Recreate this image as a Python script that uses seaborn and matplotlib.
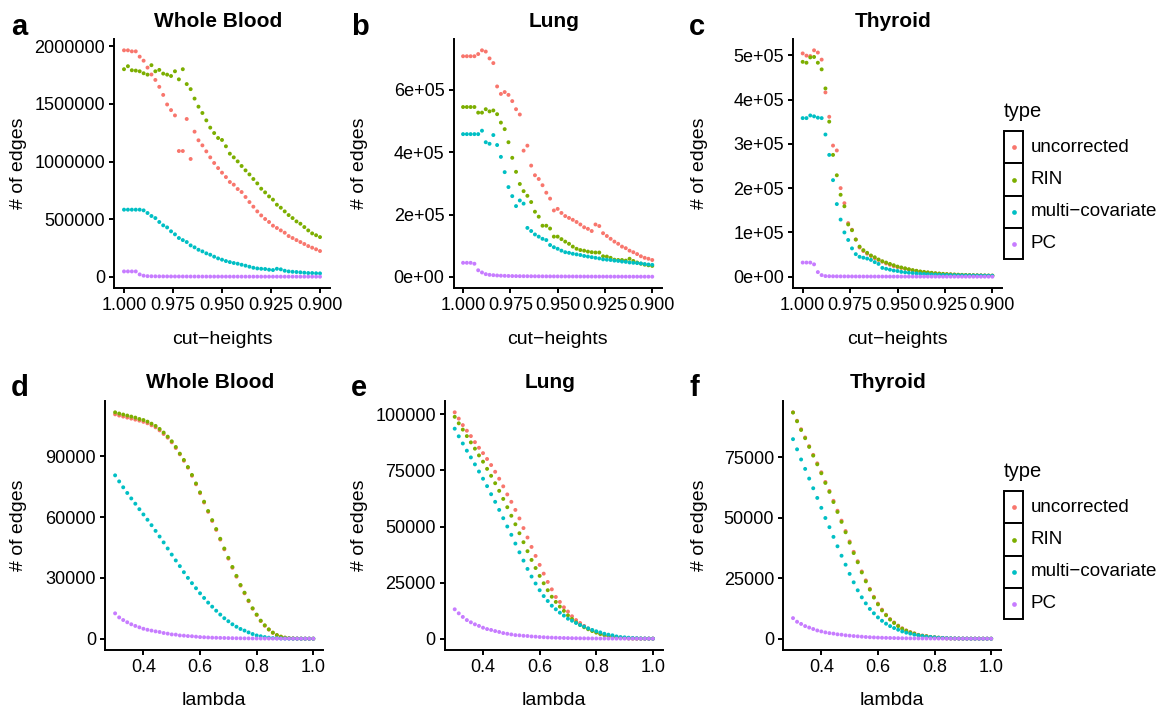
import numpy as np
import pandas as pd
import matplotlib
matplotlib.use("Agg")
import matplotlib.pyplot as plt
import seaborn as sns
from matplotlib.patches import Rectangle
from matplotlib.lines import Line2D

# ---------------- data ----------------
TYPES = ["uncorrected", "RIN", "multi\u2212covariate", "PC"]
COLORS = ["#F8766D", "#7CAE00", "#00BFC4", "#C77CFF"]

cut_heights = [1.000, 0.998, 0.996, 0.994, 0.992, 0.990, 0.988, 0.986, 0.984, 0.982,
               0.980, 0.978, 0.976, 0.974, 0.972, 0.970, 0.968, 0.966, 0.964, 0.962,
               0.960, 0.958, 0.956, 0.954, 0.952, 0.950, 0.948, 0.946, 0.944, 0.942,
               0.940, 0.938, 0.936, 0.934, 0.932, 0.930, 0.928, 0.926, 0.924, 0.922,
               0.920, 0.918, 0.916, 0.914, 0.912, 0.910, 0.908, 0.906, 0.904, 0.902,
               0.900]

lambdas = [0.3000, 0.3143, 0.3286, 0.3429, 0.3571, 0.3714, 0.3857, 0.4000, 0.4143, 0.4286,
           0.4429, 0.4571, 0.4714, 0.4857, 0.5000, 0.5143, 0.5286, 0.5429, 0.5571, 0.5714,
           0.5857, 0.6000, 0.6143, 0.6286, 0.6429, 0.6571, 0.6714, 0.6857, 0.7000, 0.7143,
           0.7286, 0.7429, 0.7571, 0.7714, 0.7857, 0.8000, 0.8143, 0.8286, 0.8429, 0.8571,
           0.8714, 0.8857, 0.9000, 0.9143, 0.9286, 0.9429, 0.9571, 0.9714, 0.9857, 1.0000]

# number of edges, in thousands
wb_cut_uncorrected = [1965, 1965, 1956, 1956, 1910, 1875, 1815, 1755, 1708, 1648,
                      1578, 1495, 1446, 1400, 1091, 1091, 1369, 1022, 1259, 1184,
                      1140, 1088, 1036, 987, 943, 903, 865, 822, 799, 761,
                      735, 692, 648, 608, 567, 532, 501, 475, 443, 423,
                      402, 382, 353, 336, 318, 301, 284, 266, 252, 238,
                      223]
wb_cut_rin = [1801, 1827, 1792, 1789, 1783, 1766, 1754, 1836, 1783, 1795,
              1763, 1754, 1742, 1783, 1713, 1801, 1672, 1628, 1546, 1476,
              1421, 1357, 1294, 1247, 1204, 1187, 1132, 1068, 1036, 1001,
              961, 923, 888, 848, 810, 764, 732, 697, 669, 625,
              599, 567, 535, 509, 480, 460, 431, 402, 376, 360,
              344]
wb_cut_multi = [582, 582, 582, 582, 582, 576, 553, 527, 509, 475,
                446, 428, 394, 368, 336, 318, 301, 272, 255, 234,
                220, 203, 191, 174, 159, 148, 136, 127, 119, 113,
                104, 96, 87, 78, 72, 69, 67, 61, 58, 69,
                64, 52, 46, 43, 41, 38, 35, 32, 32, 30,
                29]
wb_cut_pc = [46, 46, 46, 46, 20, 9, 5, 4, 3.5, 3,
             2.8, 2.5, 2.3, 2.1, 2.0, 1.9, 1.8, 1.7, 1.6, 1.5,
             1.4, 1.3, 1.25, 1.2, 1.15, 1.1, 1.05, 1.0, 0.95, 0.9,
             0.85, 0.8, 0.78, 0.75, 0.72, 0.7, 0.68, 0.65, 0.62, 0.6,
             0.58, 0.56, 0.54, 0.52, 0.5, 0.48, 0.46, 0.44, 0.42, 0.4,
             0.38]

lung_cut_uncorrected = [708, 708, 708, 708, 715, 727, 723, 701, 686, 611,
                        587, 593, 584, 564, 538, 521, 405, 421, 357, 326,
                        314, 294, 270, 251, 213, 218, 205, 195, 189, 183,
                        176, 168, 159, 154, 147, 168, 163, 140, 131, 122,
                        113, 106, 97, 92, 84, 79, 73, 66, 61, 58,
                        54]
lung_cut_rin = [545, 545, 545, 545, 527, 527, 538, 531, 534, 522,
                495, 474, 432, 382, 337, 298, 275, 260, 240, 209,
                193, 164, 164, 155, 129, 129, 121, 113, 106, 97,
                90, 86, 84, 81, 79, 78, 78, 66, 65, 61,
                55, 54, 54, 52, 58, 51, 46, 42, 39, 37,
                35]
lung_cut_multi = [458, 458, 458, 458, 458, 469, 432, 427, 455, 423,
                  385, 336, 288, 259, 227, 245, 235, 157, 147, 136,
                  129, 122, 118, 102, 95, 90, 84, 79, 77, 74,
                  72, 70, 67, 65, 63, 61, 59, 56, 55, 54,
                  52, 51, 49, 48, 46, 45, 44, 43, 41, 39.5,
                  38.5]
lung_cut_pc = [45, 45, 45, 42, 21, 14, 8.6, 6.4, 5.3, 4.3,
               3.6, 3.2, 2.8, 2.5, 2.3, 2.1, 2.0, 1.9, 1.8, 1.7,
               1.6, 1.5, 1.4, 1.35, 1.3, 1.25, 1.2, 1.15, 1.1, 1.05,
               1.0, 0.95, 0.9, 0.85, 0.8, 0.78, 0.75, 0.72, 0.7, 0.68,
               0.65, 0.62, 0.6, 0.58, 0.56, 0.54, 0.52, 0.5, 0.48, 0.46,
               0.45]

thy_cut_uncorrected = [504, 499, 498, 511, 506, 490, 416, 361, 296, 285,
                       200, 166, 121, 106, 84, 66, 58, 52, 47, 42,
                       38, 34, 30, 27, 24, 22, 20, 18, 16, 14,
                       12.5, 11, 10, 9, 8.2, 7.4, 6.7, 6, 5.5, 5,
                       4.6, 4.2, 3.9, 3.6, 3.4, 3.2, 3.0, 2.8, 2.6, 2.5,
                       2.4]
thy_cut_rin = [485, 483, 495, 496, 483, 468, 425, 350, 275, 229,
               185, 159, 118, 105, 84, 68, 60, 54, 48, 44,
               39, 35, 32, 29, 26, 23, 21, 19, 17, 15,
               13.5, 12, 11, 10, 9, 8, 7.3, 6.6, 6, 5.5,
               5, 4.6, 4.3, 4, 3.7, 3.4, 3.2, 3.0, 2.8, 2.6,
               2.5]
thy_cut_multi = [358, 358, 364, 362, 359, 358, 321, 275, 218, 164,
                 129, 100, 83, 64, 51, 45, 43, 41, 38, 33,
                 29, 20, 18, 16, 14, 13, 11, 10, 9, 8.3,
                 7.5, 6.8, 6.2, 5.7, 5.2, 4.8, 4.5, 4.2, 4.0, 3.8,
                 3.6, 3.4, 3.2, 3.0, 2.9, 2.8, 2.7, 2.6, 2.5, 2.4,
                 2.3]
thy_cut_pc = [32, 32, 32, 28, 10.5, 3.7, 1.5, 1.2, 1.0, 0.9,
              0.8, 0.75, 0.7, 0.65, 0.6, 0.56, 0.52, 0.5, 0.48, 0.46,
              0.44, 0.42, 0.4, 0.38, 0.36, 0.35, 0.34, 0.33, 0.32, 0.31,
              0.3, 0.29, 0.28, 0.27, 0.26, 0.25, 0.24, 0.23, 0.22, 0.21,
              0.2, 0.2, 0.19, 0.19, 0.18, 0.18, 0.17, 0.17, 0.16, 0.16,
              0.15]

wb_lam_uncorrected = [110.7, 110.1, 109.6, 109.1, 108.6, 108.1, 107.6, 107.0, 106.3, 105.3,
                      104.3, 102.8, 101.0, 99.2, 96.9, 94.1, 91.0, 87.8, 84.4, 80.4,
                      76.2, 71.8, 67.2, 62.6, 58.1, 53.7, 48.9, 44.1, 39.5, 35.0,
                      30.6, 26.2, 22.4, 18.5, 14.8, 11.7, 8.7, 6.4, 4.5, 2.9,
                      1.7, 0.95, 0.5, 0.24, 0.11, 0.05, 0.03, 0.015, 0.008, 0.004]
wb_lam_rin = [111.7, 111.1, 110.6, 110.1, 109.6, 109.1, 108.4, 107.9, 107.1, 106.1,
              105.0, 103.5, 101.7, 99.7, 97.4, 94.6, 91.3, 88.2, 84.7, 80.8,
              76.6, 72.2, 67.6, 63.0, 58.5, 54.1, 49.3, 44.5, 39.9, 35.4,
              31.0, 26.5, 22.7, 18.8, 15.0, 11.9, 8.9, 6.6, 4.6, 3.0,
              1.8, 1.0, 0.5, 0.25, 0.12, 0.06, 0.03, 0.015, 0.008, 0.004]
wb_lam_multi = [80.6, 77.6, 74.7, 71.9, 69.2, 66.6, 63.9, 61.3, 58.7, 56.0,
                53.2, 50.4, 47.5, 44.5, 41.5, 38.6, 35.8, 32.8, 30.0, 27.4,
                24.9, 22.4, 20.1, 17.8, 15.8, 13.8, 11.9, 10.1, 8.6, 7.1,
                5.9, 4.8, 4.0, 3.1, 2.3, 1.6, 1.2, 0.8, 0.5, 0.3,
                0.2, 0.12, 0.07, 0.04, 0.02, 0.01, 0.006, 0.003, 0.002, 0.001]
wb_lam_pc = [12.5, 10.5, 9.2, 8.1, 7.1, 6.3, 5.6, 4.9, 4.4, 4.0,
             3.6, 3.3, 2.8, 2.5, 2.1, 2.0, 1.6, 1.5, 1.3, 1.2,
             1.0, 0.8, 0.7, 0.6, 0.5, 0.45, 0.4, 0.35, 0.3, 0.26,
             0.22, 0.19, 0.16, 0.14, 0.12, 0.1, 0.08, 0.07, 0.06, 0.05,
             0.04, 0.035, 0.03, 0.025, 0.02, 0.016, 0.013, 0.01, 0.008, 0.006]

lung_lam_uncorrected = [100.9, 98.1, 95.2, 92.7, 90.3, 87.6, 85.1, 82.7, 80.1, 77.4,
                        74.4, 71.3, 67.9, 64.3, 61.0, 57.4, 53.6, 49.3, 45.1, 40.9,
                        36.9, 32.9, 29.0, 25.3, 22.0, 18.6, 16.4, 14.0, 12.1, 10.0,
                        8.3, 7.0, 5.7, 4.6, 3.7, 3.0, 2.2, 1.8, 1.3, 1.0,
                        0.7, 0.45, 0.3, 0.15, 0.1, 0.06, 0.04, 0.02, 0.01, 0.005]
lung_lam_rin = [98.9, 96.0, 93.2, 90.3, 87.5, 84.7, 81.7, 78.9, 75.7, 72.6,
                69.3, 65.9, 62.3, 58.6, 54.8, 51.0, 47.0, 43.0, 39.0, 35.1,
                31.5, 28.0, 24.7, 21.6, 18.7, 16.4, 14.3, 12.4, 10.4, 8.8,
                7.3, 6.1, 5.1, 4.2, 3.4, 2.7, 2.1, 1.6, 1.2, 0.9,
                0.6, 0.45, 0.3, 0.15, 0.1, 0.06, 0.04, 0.02, 0.01, 0.005]
lung_lam_multi = [93.6, 90.2, 87.0, 83.8, 80.8, 77.7, 74.5, 71.3, 68.0, 64.4,
                  61.0, 57.4, 53.7, 50.0, 46.3, 42.4, 38.5, 34.8, 31.1, 27.7,
                  24.6, 21.6, 19.0, 16.8, 14.7, 13.1, 11.6, 10.3, 8.9, 8.0,
                  7.0, 6.1, 5.4, 4.6, 3.9, 3.3, 2.8, 2.2, 1.8, 1.5,
                  1.0, 0.7, 0.6, 0.45, 0.3, 0.2, 0.12, 0.08, 0.05, 0.03]
lung_lam_pc = [13.1, 11.3, 9.7, 8.3, 7.3, 6.4, 5.7, 4.9, 4.3, 3.9,
               3.4, 3.0, 2.5, 2.2, 1.9, 1.6, 1.5, 1.3, 1.2, 1.0,
               0.9, 0.75, 0.65, 0.55, 0.48, 0.42, 0.36, 0.31, 0.27, 0.23,
               0.2, 0.17, 0.15, 0.13, 0.11, 0.09, 0.08, 0.07, 0.06, 0.05,
               0.04, 0.035, 0.03, 0.025, 0.02, 0.016, 0.013, 0.01, 0.008, 0.006]

thy_lam_uncorrected = [93.6, 90.1, 86.6, 83.2, 79.6, 76.0, 72.5, 68.8, 64.8, 61.1,
                       57.0, 52.9, 48.8, 44.5, 40.2, 35.9, 32.0, 27.8, 24.1, 20.6,
                       17.3, 14.5, 12.0, 9.9, 8.1, 6.7, 5.4, 4.3, 3.4, 2.7,
                       2.2, 1.6, 1.3, 1.05, 0.75, 0.58, 0.42, 0.31, 0.16, 0.1,
                       0.07, 0.05, 0.03, 0.02, 0.01, 0.006, 0.004, 0.002, 0.001, 0.001]
thy_lam_rin = [93.5, 89.9, 86.3, 82.9, 79.3, 75.7, 72.1, 68.4, 64.4, 60.7,
               56.5, 52.4, 48.3, 44.0, 39.7, 35.4, 31.6, 27.4, 23.7, 20.3,
               17.0, 14.2, 11.7, 9.7, 7.9, 6.5, 5.2, 4.1, 3.3, 2.6,
               2.1, 1.5, 1.2, 1.0, 0.7, 0.55, 0.4, 0.3, 0.15, 0.1,
               0.07, 0.05, 0.03, 0.02, 0.01, 0.006, 0.004, 0.002, 0.001, 0.001]
thy_lam_multi = [82.5, 78.3, 74.1, 70.2, 66.2, 62.2, 58.2, 54.1, 49.9, 46.1,
                 42.1, 38.2, 34.3, 30.6, 26.8, 23.3, 20.0, 17.1, 14.6, 12.3,
                 10.5, 8.8, 7.4, 6.2, 5.2, 4.4, 3.7, 3.0, 2.5, 2.1,
                 1.65, 1.4, 1.1, 0.8, 0.7, 0.55, 0.4, 0.3, 0.2, 0.15,
                 0.1, 0.07, 0.05, 0.03, 0.02, 0.01, 0.007, 0.004, 0.002, 0.001]
thy_lam_pc = [8.5, 7.0, 6.1, 5.2, 4.6, 4.0, 3.4, 3.0, 2.6, 2.3,
              2.1, 1.8, 1.65, 1.4, 1.25, 1.1, 0.97, 0.83, 0.7, 0.6,
              0.52, 0.45, 0.39, 0.34, 0.3, 0.26, 0.22, 0.19, 0.16, 0.14,
              0.12, 0.1, 0.09, 0.08, 0.07, 0.06, 0.05, 0.04, 0.035, 0.03,
              0.025, 0.02, 0.016, 0.013, 0.01, 0.008, 0.006, 0.005, 0.004, 0.003]

tissues = ["Whole Blood", "Lung", "Thyroid"]
letters = ["a", "b", "c", "d", "e", "f"]

yt_a = [0, 500000, 1000000, 1500000, 2000000]
yl_a = ["0", "500000", "1000000", "1500000", "2000000"]
yt_b = [0, 200000, 400000, 600000]
yl_b = ["0e+00", "2e+05", "4e+05", "6e+05"]
yt_c = [0, 100000, 200000, 300000, 400000, 500000]
yl_c = ["0e+00", "1e+05", "2e+05", "3e+05", "4e+05", "5e+05"]
yt_d = [0, 30000, 60000, 90000]
yl_d = ["0", "30000", "60000", "90000"]
yt_e = [0, 25000, 50000, 75000, 100000]
yl_e = ["0", "25000", "50000", "75000", "100000"]
yt_f = [0, 25000, 50000, 75000]
yl_f = ["0", "25000", "50000", "75000"]

xt_cut = [1.000, 0.975, 0.950, 0.925, 0.900]
xl_cut = ["1.000", "0.975", "0.950", "0.925", "0.900"]
xt_lam = [0.4, 0.6, 0.8, 1.0]
xl_lam = ["0.4", "0.6", "0.8", "1.0"]

# ---------------- style ----------------
sns.set_style("ticks")
plt.rcParams["font.family"] = ["Liberation Sans", "DejaVu Sans"]
plt.rcParams["axes.linewidth"] = 1.4
plt.rcParams["text.color"] = "black"
plt.rcParams["axes.labelcolor"] = "black"

W, H = 1159, 709
fig = plt.figure(figsize=(W / 100, H / 100), dpi=100)


def rect_px(left, right, top, bottom):
    return [left / W, 1 - bottom / H, (right - left) / W, (bottom - top) / H]


panels = [
    dict(x=cut_heights, ys=[wb_cut_uncorrected, wb_cut_rin, wb_cut_multi, wb_cut_pc],
         box=(114.2, 329.8, 39, 288), yt=yt_a, yl=yl_a, kind="cut", ylab_x=19),
    dict(x=cut_heights, ys=[lung_cut_uncorrected, lung_cut_rin, lung_cut_multi, lung_cut_pc],
         box=(453.6, 661.7, 39, 288), yt=yt_b, yl=yl_b, kind="cut", ylab_x=359),
    dict(x=cut_heights, ys=[thy_cut_uncorrected, thy_cut_rin, thy_cut_multi, thy_cut_pc],
         box=(793.2, 1001.8, 39, 288), yt=yt_c, yl=yl_c, kind="cut", ylab_x=700),
    dict(x=lambdas, ys=[wb_lam_uncorrected, wb_lam_rin, wb_lam_multi, wb_lam_pc],
         box=(105.2, 323.2, 401, 650), yt=yt_d, yl=yl_d, kind="lam", ylab_x=19),
    dict(x=lambdas, ys=[lung_lam_uncorrected, lung_lam_rin, lung_lam_multi, lung_lam_pc],
         box=(444.8, 662.8, 401, 650), yt=yt_e, yl=yl_e, kind="lam", ylab_x=359),
    dict(x=lambdas, ys=[thy_lam_uncorrected, thy_lam_rin, thy_lam_multi, thy_lam_pc],
         box=(783.1, 1001.1, 401, 650), yt=yt_f, yl=yl_f, kind="lam", ylab_x=700),
]

letter_x = [11, 351, 689, 11, 351, 689]

for k, p in enumerate(panels):
    left, right, top, bottom = p["box"]
    ax = fig.add_axes(rect_px(left, right, top, bottom))
    n = len(p["x"])
    vals = np.concatenate([np.asarray(v, dtype=float) for v in p["ys"]]) * 1000
    df = pd.DataFrame({"x": np.tile(np.asarray(p["x"], dtype=float), 4),
                       "edges": vals,
                       "type": np.repeat(TYPES, n)})
    sns.scatterplot(data=df, x="x", y="edges", hue="type", hue_order=TYPES,
                    palette=COLORS, s=8, linewidth=0, edgecolor="none",
                    legend=False, ax=ax, zorder=3)
    lo, hi = vals.min(), vals.max()
    r = hi - lo
    ax.set_ylim(lo - 0.05 * r, hi + 0.05 * r)
    if p["kind"] == "cut":
        ax.set_xlim(1.005, 0.895)
        ax.set_xticks(xt_cut)
        ax.set_xticklabels(xl_cut)
        xlab = "cut\u2212heights"
    else:
        ax.set_xlim(0.265, 1.035)
        ax.set_xticks(xt_lam)
        ax.set_xticklabels(xl_lam)
        xlab = "lambda"
    ax.set_yticks(p["yt"])
    ax.set_yticklabels(p["yl"])
    ax.set_xlabel("")
    ax.set_ylabel("")
    sns.despine(ax=ax)
    for s in ["left", "bottom"]:
        ax.spines[s].set_linewidth(1.4)
        ax.spines[s].set_color("black")
    ax.tick_params(axis="both", width=1.4, length=3.5, labelsize=13,
                   colors="black", pad=3)

    cx = (left + right) / 2
    row_off = 0 if k < 3 else 361
    fig.text((cx - 4) / W, 1 - (27 + row_off) / H, tissues[k % 3],
             fontsize=15, fontweight="bold", ha="center", va="baseline")
    fig.text(cx / W, 1 - (344 + row_off) / H, xlab, fontsize=14,
             ha="center", va="baseline")
    fig.text(p["ylab_x"] / W, 1 - ((top + bottom) / 2) / H, "# of edges",
             fontsize=14, rotation=90, ha="center", va="center")
    fig.text(letter_x[k] / W, 1 - (35 + row_off) / H, letters[k],
             fontsize=21, fontweight="bold", ha="left", va="baseline")


def draw_legend(off):
    fig.text(1004 / W, 1 - (117 + off) / H, "type", fontsize=14.5,
             ha="left", va="baseline")
    edges_y = [130.7, 163.3, 195.7, 228.0, 259.3]
    for i, t in enumerate(TYPES):
        y0 = edges_y[i] + off
        y1 = edges_y[i + 1] + off
        fig.add_artist(Rectangle((1004 / W, 1 - y1 / H), 19.3 / W, (y1 - y0) / H,
                                 transform=fig.transFigure, facecolor="white",
                                 edgecolor="black", linewidth=1.4))
        cy = (y0 + y1) / 2
        fig.add_artist(Line2D([1013.6 / W], [1 - cy / H], marker="o", markersize=3.4,
                              markeredgewidth=0, color=COLORS[i], linestyle="",
                              transform=fig.transFigure))
        fig.text(1031 / W, 1 - cy / H, t, fontsize=13.5, ha="left", va="center")


draw_legend(0)
draw_legend(360)

fig.savefig("out.png", dpi=100)
